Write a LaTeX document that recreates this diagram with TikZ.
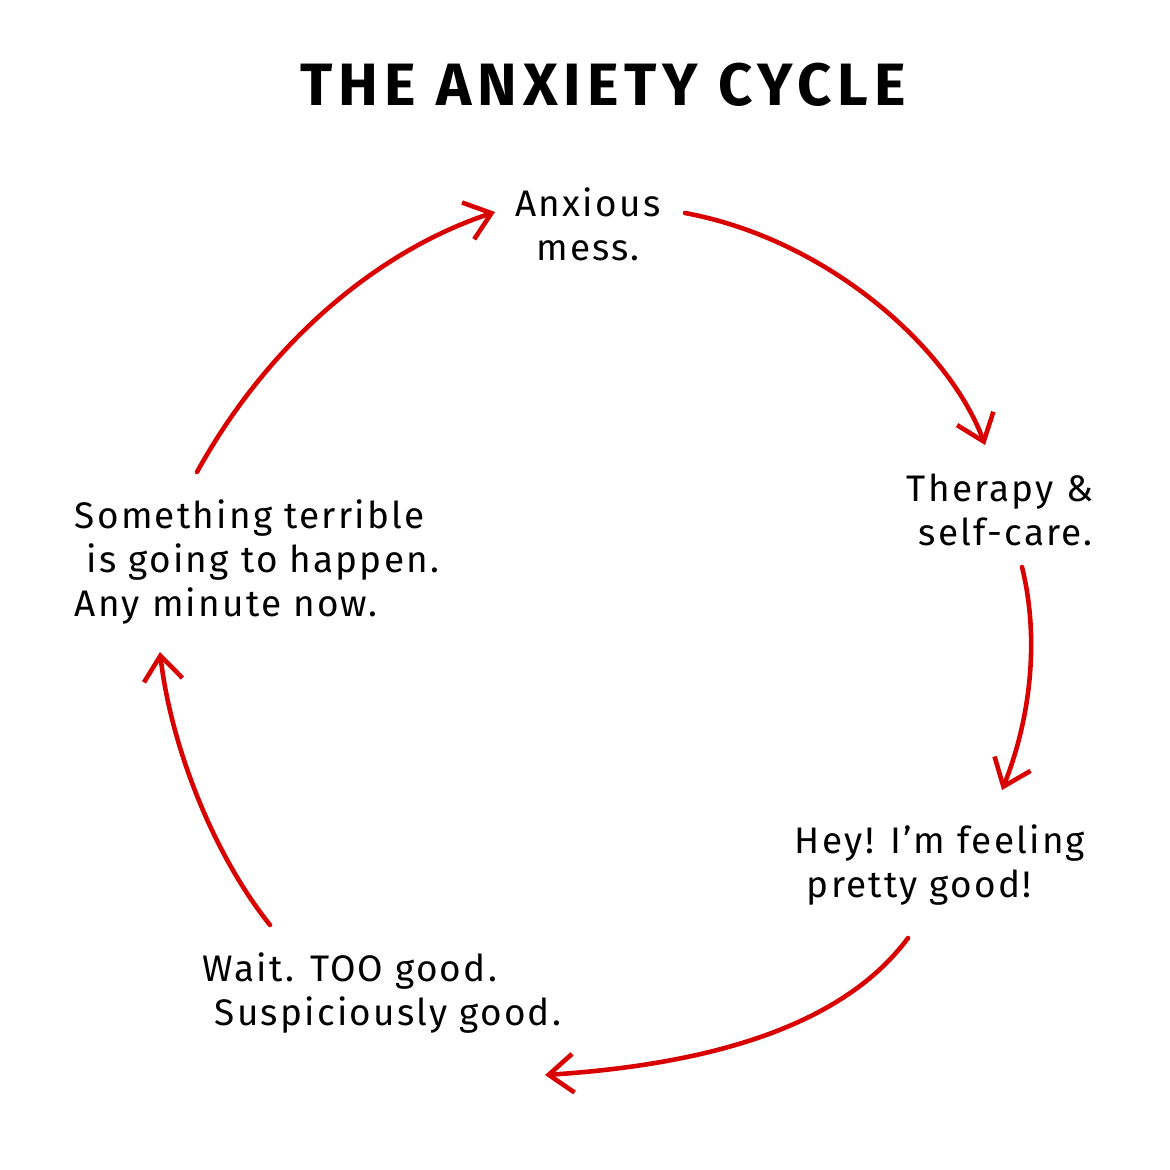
\documentclass[tikz,border=0pt]{standalone}
\usepackage{fontspec}
\setmainfont{Fira Sans}
\usetikzlibrary{arrows.meta}
\begin{document}
\begin{tikzpicture}[x=0.01cm,y=-0.01cm,
  lbl/.style={align=left,font=\fontsize{10.5}{12.5}\selectfont\addfontfeatures{LetterSpace=6}},
  cyc/.style={draw=red!85!black,line width=1.3pt,line cap=round,-{Straight Barb[length=7pt,width=11pt,line width=1.3pt]}}]
\useasboundingbox (0,0) rectangle (1170,1170);
\node[font=\fontsize{17}{20}\selectfont\bfseries\addfontfeatures{LetterSpace=10}] (title) at (603,85) {THE ANXIETY CYCLE};
\node[lbl,align=center] (anx) at (588,224) {Anxious\\mess.};
\node[lbl] (ther) at (1000,510) {Therapy \&\\\ self-care.};
\node[lbl] (hey) at (940,865) {Hey! I'm feeling\\\ pretty good!};
\node[lbl] (wait) at (382,993) {Wait. TOO good.\\\ Suspiciously good.};
\node[lbl] (some) at (257,562) {Something terrible\\\ is going to happen.\\Any minute now.};
\coordinate (a1) at (685,213); \coordinate (a2) at (985,445);
\coordinate (b1) at (1022,567); \coordinate (b2) at (1002,790);
\coordinate (c1) at (908,938); \coordinate (c2) at (545,1075);
\coordinate (d1) at (270,925); \coordinate (d2) at (160,652);
\coordinate (e1) at (197,472); \coordinate (e2) at (495,212);
\draw[cyc] (a1) .. controls (830,240) and (950,350) .. (a2);
\draw[cyc] (b1) .. controls (1040,640) and (1030,720) .. (b2);
\draw[cyc] (c1) .. controls (840,1030) and (700,1065) .. (c2);
\draw[cyc] (d1) .. controls (210,850) and (170,740) .. (d2);
\draw[cyc] (e1) .. controls (270,340) and (380,250) .. (e2);
\end{tikzpicture}
\end{document}
